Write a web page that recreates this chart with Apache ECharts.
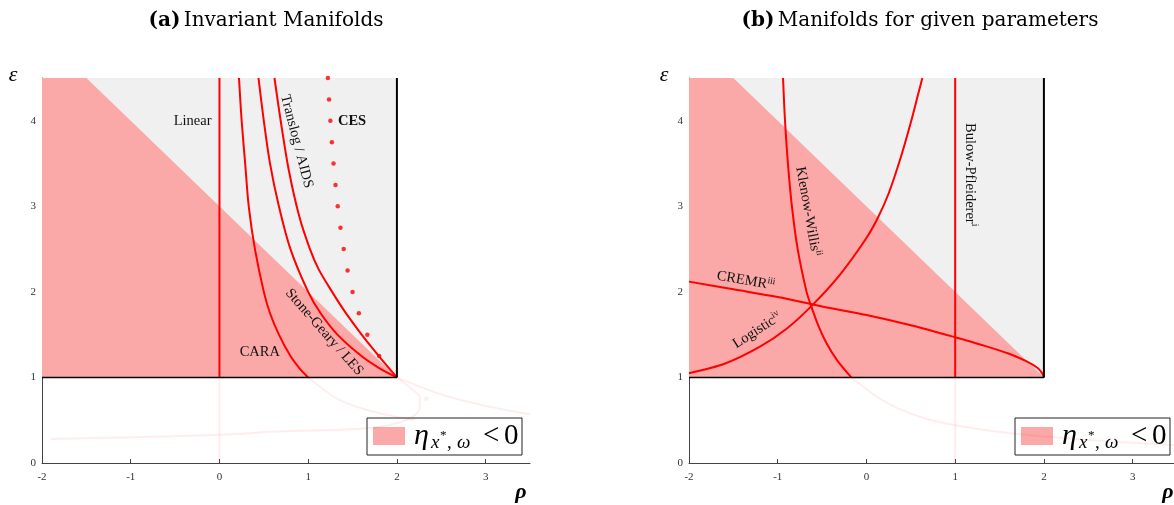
<!DOCTYPE html>
<html>
<head>
<meta charset="utf-8">
<script src="https://cdn.jsdelivr.net/npm/echarts@6/dist/echarts.min.js"></script>
<style>
  html, body { margin: 0; padding: 0; background: #fff; }
  #chart { width: 1174px; height: 505px; }
</style>
</head>
<body>
<div id="chart"></div>
<script>
// ---- tick values ----
const rhoTicks = [-2, -1, 0, 1, 2, 3];
const epsTicks = [0, 1, 2, 3, 4];

// ---- regions (rho, epsilon) ----
const boxRegion = [[-2, 1], [2, 1], [2, 4.5], [-2, 4.5]];
const negRegion = [[-2, 1], [-2, 4.5], [-1.5, 4.5], [2, 1]];
const boxBottom = [[-2, 1], [2, 1]];
const boxRight = [[2, 1], [2, 4.5]];

// ---- panel (a): invariant manifolds ----
const linearA = [[0, 1], [0, 4.5]];
const caraA = [[0.22, 4.5], [0.25, 4.0], [0.29, 3.5], [0.33, 3.0], [0.40, 2.5], [0.50, 2.0],
               [0.57, 1.75], [0.67, 1.5], [0.80, 1.25], [0.90, 1.11], [1.0, 1.0]];
const stoneGearyA = [[0.44, 4.5], [0.50, 4.0], [0.57, 3.5], [0.67, 3.0], [0.80, 2.5], [1.0, 2.0],
                     [1.14, 1.75], [1.33, 1.5], [1.60, 1.25], [1.80, 1.11], [2.0, 1.0]];
const translogA = [[0.62, 4.5], [0.69, 4.0], [0.78, 3.43], [0.90, 2.88], [1.02, 2.5], [1.12, 2.26],
                   [1.27, 2.0], [1.40, 1.79], [1.56, 1.56], [1.71, 1.36], [1.86, 1.17], [2.0, 1.0]];
const cesDotsA = [[1.222, 4.5], [1.235, 4.25], [1.25, 4.0], [1.267, 3.75], [1.286, 3.5], [1.308, 3.25],
                  [1.333, 3.0], [1.364, 2.75], [1.40, 2.5], [1.444, 2.25], [1.50, 2.0], [1.571, 1.75],
                  [1.667, 1.5], [1.80, 1.25]];
// continuations below epsilon = 1 (faint)
const linearFaintA = [[0, 0], [0, 1]];
const caraFaintA = [[1.0, 1.0], [1.33, 0.75], [1.6, 0.64], [1.9, 0.56], [2.2, 0.5]];
const stoneGearyFaintA = [[2.0, 1.0], [2.5, 0.8], [3.0, 0.667], [3.5, 0.571]];
const translogFaintA = [[2.0, 1.0], [2.15, 0.88], [2.26, 0.76], [2.25, 0.62], [2.1, 0.5], [1.7, 0.41],
                        [0.7, 0.37], [0.0, 0.33], [-1.0, 0.30], [-1.9, 0.28]];
const cesFaintA = [[2.33, 0.75]];

// ---- panel (b): manifolds for given parameters ----
const bulowB = [[1, 1], [1, 4.5]];
const klenowB = [[-0.94, 4.5], [-0.918, 4.0], [-0.885, 3.5], [-0.84, 3.0], [-0.775, 2.5], [-0.675, 2.0],
                 [-0.625, 1.84], [-0.54, 1.6], [-0.45, 1.4], [-0.33, 1.2], [-0.17, 1.0]];
const cremrB = [[-2, 2.12], [-1.5, 2.03], [-1, 1.94], [-0.5, 1.83], [0, 1.73], [0.5, 1.61], [1, 1.47],
                [1.3, 1.38], [1.6, 1.28], [1.8, 1.19], [1.93, 1.11], [1.98, 1.05], [2, 1]];
const logisticB = [[-2, 1.05], [-1.6, 1.16], [-1.2, 1.36], [-0.9, 1.57], [-0.615, 1.84], [-0.3, 2.2],
                   [0.0, 2.63], [0.13, 2.87], [0.25, 3.15], [0.38, 3.55], [0.5, 3.98], [0.58, 4.3], [0.63, 4.5]];
const bulowFaintB = [[1, 0], [1, 1]];
const klenowFaintB = [[-0.17, 1.0], [0.2, 0.72], [0.6, 0.54], [1.0, 0.44], [1.6, 0.35], [2.5, 0.27], [3.5, 0.21]];

// ---- curve labels: [text (rich), rho, epsilon, rotation in degrees, align] ----
const labelsA = [
  ['{m|Linear}', -0.09, 4.0, 0, 'right'],
  ['{b|CES}', 1.335, 4.0, 0, 'left'],
  ['{m|Translog / AIDS}', 0.87, 3.76, -75.5, 'center'],
  ['{m|Stone-Geary / LES}', 1.18, 1.53, -48.7, 'center'],
  ['{m|CARA}', 0.455, 1.30, 0, 'center']
];
const labelsB = [
  ['{m|Bulow-Pfleiderer}{s|i}', 1.17, 3.37, -90, 'center'],
  ['{m|Klenow-Willis}{s|ii}', -0.66, 2.94, -80, 'center'],
  ['{m|CREMR}{s|iii}', -1.36, 2.13, -10, 'center'],
  ['{m|Logistic}{s|iv}', -1.23, 1.55, 33, 'center']
];

const SERIF = '"Liberation Serif", "DejaVu Serif", serif';
const TITLE_SERIF = '"DejaVu Serif", "Liberation Serif", serif';
const RED = '#ff0000';
const FAINT = 'rgba(255, 0, 0, 0.07)';
const PINK = '#faa8a8';
const GRAY = '#f0f0f0';

const chart = echarts.init(document.getElementById('chart'), null, { renderer: 'canvas' });

function xAxis(g) {
  return {
    gridIndex: g, type: 'value', min: -2, max: 3.5, interval: 1,
    axisLine: { show: true, onZero: false, lineStyle: { color: '#444', width: 1 } },
    axisTick: { show: true, inside: true, length: 4, customValues: rhoTicks, lineStyle: { color: '#444' } },
    axisLabel: { customValues: rhoTicks, color: '#333', fontFamily: SERIF, fontSize: 11, margin: 9 },
    splitLine: { show: false }
  };
}
function yAxis(g) {
  return {
    gridIndex: g, type: 'value', min: 0, max: 4.5, interval: 1,
    axisLine: { show: true, onZero: false, lineStyle: { color: '#444', width: 1 } },
    axisTick: { show: true, inside: true, length: 4, customValues: epsTicks, lineStyle: { color: '#444' } },
    axisLabel: { customValues: epsTicks, color: '#333', fontFamily: SERIF, fontSize: 11, margin: 6 },
    splitLine: { show: false }
  };
}
function polygon(g, pts, color, z) {
  return {
    type: 'custom', xAxisIndex: g, yAxisIndex: g, silent: true, z: z, data: [[0, 0]],
    renderItem: function (params, api) {
      return { type: 'polygon', shape: { points: pts.map(function (p) { return api.coord(p); }) }, style: { fill: color } };
    }
  };
}
function curve(g, pts, color, width, z, smooth) {
  return {
    type: 'line', xAxisIndex: g, yAxisIndex: g, data: pts, smooth: smooth === undefined ? 0.3 : smooth,
    showSymbol: false, silent: true, z: z, lineStyle: { color: color, width: width }
  };
}
function dots(g, pts, color, size, z) {
  return {
    type: 'scatter', xAxisIndex: g, yAxisIndex: g, data: pts, symbolSize: size, silent: true, z: z,
    itemStyle: { color: color }
  };
}
function panelBase(g) {
  return [
    polygon(g, boxRegion, GRAY, 1),
    polygon(g, negRegion, PINK, 2),
    curve(g, boxBottom, '#000', 1.5, 6, false),
    curve(g, boxRight, '#000', 2, 6, false)
  ];
}

const series = [].concat(
  panelBase(0),
  [
    curve(0, linearFaintA, FAINT, 2, 3, false),
    curve(0, caraFaintA, FAINT, 2, 3),
    curve(0, stoneGearyFaintA, FAINT, 2, 3),
    curve(0, translogFaintA, FAINT, 2, 3),
    dots(0, cesFaintA, 'rgba(255,0,0,0.08)', 4.5, 3),
    curve(0, linearA, RED, 2, 5, false),
    curve(0, caraA, RED, 2, 5),
    curve(0, stoneGearyA, RED, 2, 5),
    curve(0, translogA, RED, 2, 5),
    dots(0, cesDotsA, RED, 4.5, 5)
  ],
  panelBase(1),
  [
    curve(1, bulowFaintB, FAINT, 2, 3, false),
    curve(1, klenowFaintB, FAINT, 2, 3),
    curve(1, bulowB, RED, 2, 5, false),
    curve(1, klenowB, RED, 2, 5),
    curve(1, cremrB, RED, 2, 5),
    curve(1, logisticB, RED, 2, 5)
  ]
);

chart.setOption({
  animation: false,
  backgroundColor: '#fff',
  grid: [
    { left: 42, top: 78, width: 488, height: 385, outerBoundsMode: 'none' },
    { left: 689, top: 78, width: 488, height: 385, outerBoundsMode: 'none' }
  ],
  xAxis: [xAxis(0), xAxis(1)],
  yAxis: [yAxis(0), yAxis(1)],
  series: series
});

const labelRich = {
  m: { fontFamily: SERIF, fontSize: 14.5, fill: '#111', lineHeight: 18 },
  b: { fontFamily: SERIF, fontSize: 14.5, fontWeight: 'bold', fill: '#111', lineHeight: 18 },
  s: { fontFamily: SERIF, fontSize: 9.5, fill: '#111', lineHeight: 18, verticalAlign: 'top' }
};

function curveLabels(g, list) {
  return list.map(function (l) {
    const p = chart.convertToPixel({ gridIndex: g }, [l[1], l[2]]);
    return {
      type: 'text', x: p[0], y: p[1], rotation: l[3] * Math.PI / 180, z: 20,
      style: { text: l[0], rich: labelRich, align: l[4], verticalAlign: 'middle' }
    };
  });
}

// legend key: eta_{x*, omega} < 0, laid out piece by piece
function mathPiece(text, x, y, size, italic) {
  return {
    type: 'text', x: x, y: y,
    style: { text: text, fontFamily: SERIF, fontStyle: italic ? 'italic' : 'normal', fontSize: size,
             fill: '#000', align: 'left', verticalAlign: 'middle' }
  };
}
function legendBox(x, y) {
  return {
    type: 'group', x: x, y: y, z: 30,
    children: [
      { type: 'rect', shape: { x: 0, y: 0, width: 155, height: 37 }, style: { fill: '#fff', stroke: '#222', lineWidth: 1 } },
      { type: 'rect', shape: { x: 6, y: 9, width: 32, height: 18 }, style: { fill: PINK } },
      mathPiece('η', 47, 18, 30, true),
      mathPiece('x', 64, 25, 19, true),
      mathPiece('*', 73, 18, 13, false),
      mathPiece(',', 80, 25, 19, false),
      mathPiece('ω', 90, 25, 19, true),
      mathPiece('<', 116, 18, 29, false),
      mathPiece('0', 137, 18, 29, false)
    ]
  };
}
const titleRich = {
  b: { fontFamily: TITLE_SERIF, fontSize: 20, fontWeight: 'bold', fill: '#000' },
  n: { fontFamily: TITLE_SERIF, fontSize: 20, fill: '#000' }
};

chart.setOption({
  graphic: [].concat(
    curveLabels(0, labelsA),
    curveLabels(1, labelsB),
    [
      legendBox(367, 418),
      legendBox(1015, 418),
      { type: 'text', x: 266, y: 21, style: { text: '{b|(a)} {n|Invariant Manifolds}', rich: titleRich, align: 'center', verticalAlign: 'middle' } },
      { type: 'text', x: 920, y: 21, style: { text: '{b|(b)} {n|Manifolds for given parameters}', rich: titleRich, align: 'center', verticalAlign: 'middle' } },
      { type: 'text', x: 13, y: 75, style: { text: 'ε', fontFamily: SERIF, fontStyle: 'italic', fontSize: 22, fill: '#000', align: 'center', verticalAlign: 'middle' } },
      { type: 'text', x: 664, y: 75, style: { text: 'ε', fontFamily: SERIF, fontStyle: 'italic', fontSize: 22, fill: '#000', align: 'center', verticalAlign: 'middle' } },
      { type: 'text', x: 521, y: 492, style: { text: 'ρ', fontFamily: SERIF, fontStyle: 'italic', fontWeight: 'bold', fontSize: 22, fill: '#000', align: 'center', verticalAlign: 'middle' } },
      { type: 'text', x: 1168, y: 492, style: { text: 'ρ', fontFamily: SERIF, fontStyle: 'italic', fontWeight: 'bold', fontSize: 22, fill: '#000', align: 'center', verticalAlign: 'middle' } }
    ]
  )
});
</script>
</body>
</html>
